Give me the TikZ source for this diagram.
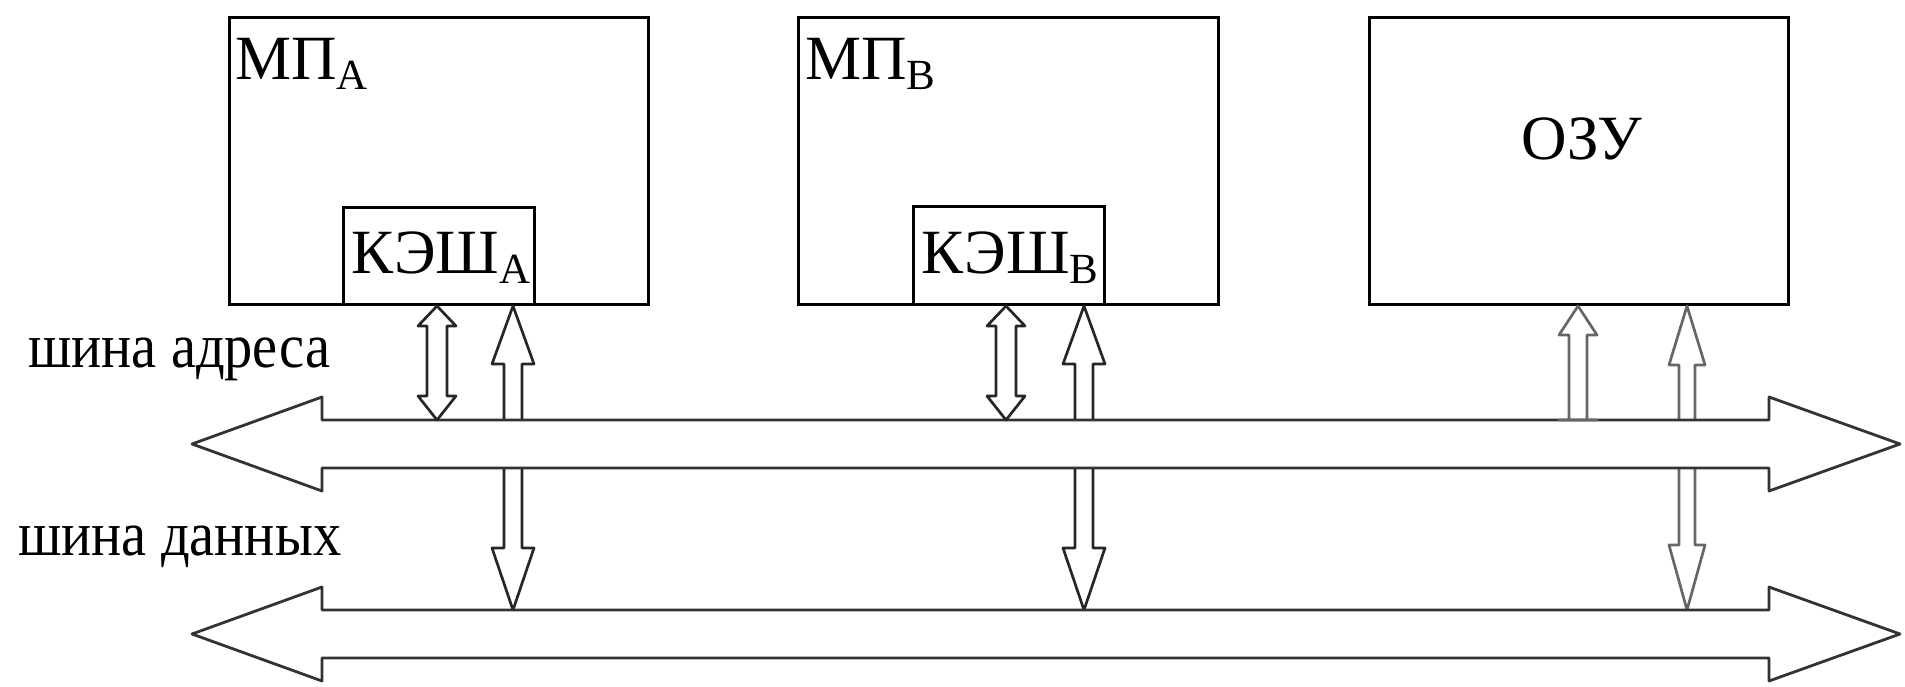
\documentclass[tikz,border=0pt]{standalone}
\usepackage{fontspec}
\setmainfont{Liberation Serif}
\usetikzlibrary{calc}

% lowered, smaller index letter
\newcommand\lowsub[1]{\raisebox{-10pt}{\fontsize{43}{46}\selectfont #1}}

% vertical hollow block arrow between two points
% #2 top point, #3 bottom point, #4 shaft half width, #5 head half width,
% #6 upper head length, #7 lower head length (0 = flat end)
\newcommand\blockv[7][]{%
  \draw[blockarrow,#1] (#2) -- ($(#2)+(#5,#6)$) -- ($(#2)+(#4,#6)$)
    -- ($(#3)+(#4,-#7)$) -- ($(#3)+(#5,-#7)$) -- (#3)
    -- ($(#3)+(-#5,-#7)$) -- ($(#3)+(-#4,-#7)$)
    -- ($(#2)+(-#4,#6)$) -- ($(#2)+(-#5,#6)$) -- cycle;}

\tikzset{
  box/.style={draw=black, line width=3pt, fill=white, inner sep=0pt},
  blockarrow/.style={draw=black!85, line width=2.7pt, line join=round},
  bus/.style={draw=black!80, line width=2.8pt, fill=white, line join=round},
  lbl/.style={inner sep=0pt, font=\fontsize{63}{72}\selectfont},
  buslbl/.style={lbl, xscale=0.895},
}

\begin{document}
\begin{tikzpicture}[x=1pt,y=-1pt]
\useasboundingbox (0,0) rectangle (1905,687);

% x positions of the vertical links
\coordinate (aA) at (437,0);
\coordinate (dA) at (513,0);
\coordinate (aB) at (1006,0);
\coordinate (dB) at (1084,0);
\coordinate (aR) at (1578,0);
\coordinate (dR) at (1687,0);
% upper edges of the two buses
\coordinate (abT) at (0,420);
\coordinate (dbT) at (0,610);

% blocks
\node[box, anchor=north west, minimum width=419pt, minimum height=287pt] (mpA) at (228,16) {};
\node[box, anchor=north west, minimum width=191pt, minimum height=97pt] (cA) at (342,206) {};
\node[box, anchor=north west, minimum width=420pt, minimum height=287pt] (mpB) at (797,16) {};
\node[box, anchor=north west, minimum width=191pt, minimum height=98pt] (cB) at (912,205) {};
\node[box, anchor=north west, minimum width=419pt, minimum height=287pt] (ram) at (1368,16) {};

% data links (drawn first, the address bus passes over them)
\blockv{cA.south -| dA}{dA |- dbT}{9}{21}{58}{62}
\blockv{cB.south -| dB}{dB |- dbT}{9}{21}{58}{62}
\blockv[draw=black!60]{ram.south -| dR}{dR |- dbT}{8}{18}{59}{65}

% data bus
\draw[bus] (192,634) -- (322,587) -- (322,610) -- (1769,610) -- (1769,587)
  -- (1900,634) -- (1769,681) -- (1769,658) -- (322,658) -- (322,681) -- cycle;

% address bus
\draw[bus] (192,444) -- (322,397) -- (322,420) -- (1769,420) -- (1769,397)
  -- (1900,444) -- (1769,491) -- (1769,468) -- (322,468) -- (322,491) -- cycle;

% address links
\blockv{cA.south -| aA}{aA |- abT}{10}{19}{20}{24}
\blockv{cB.south -| aB}{aB |- abT}{10}{19}{20}{24}
\blockv[draw=black!60]{ram.south -| aR}{aR |- abT}{9}{19}{29}{0}

% texts
\node[lbl, anchor=base west] (tA) at (235,80) {МП\lowsub{A}};
\node[lbl, anchor=base west] (tB) at (805,80) {МП\lowsub{B}};
\node[lbl, anchor=base] (tcA) at (441,273) {КЭШ\lowsub{A}};
\node[lbl, anchor=base] (tcB) at (1010,273) {КЭШ\lowsub{B}};
\node[lbl, anchor=base] (tR) at (1582,160) {ОЗУ};
\node[buslbl, anchor=base west] (la) at (28,367) {шина адреса};
\node[buslbl, anchor=base west] (ld) at (18,555) {шина данных};
\end{tikzpicture}
\end{document}
